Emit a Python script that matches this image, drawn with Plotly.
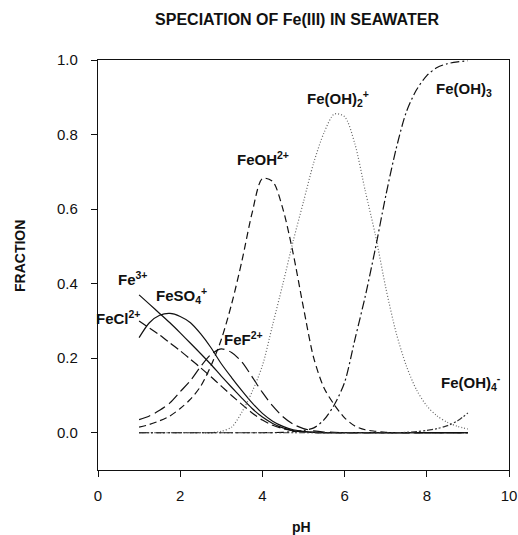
import plotly.graph_objects as go

PH = [1.0, 1.25, 1.5, 1.75, 2.0, 2.25, 2.5, 2.75, 3.0, 3.25, 3.5, 3.75, 4.0, 4.25, 4.5,
      4.75, 5.0, 5.25, 5.5, 5.75, 6.0, 6.25, 6.5, 6.75, 7.0, 7.25, 7.5, 7.75, 8.0, 8.25,
      8.5, 8.75, 9.0]

FE3 = [0.37, 0.345, 0.32, 0.295, 0.268, 0.24, 0.212, 0.183, 0.152, 0.122, 0.093, 0.065,
       0.042, 0.025, 0.013, 0.006, 0.003, 0.001] + [0.0] * 15
FECL = [0.30, 0.281, 0.262, 0.241, 0.22, 0.197, 0.174, 0.15, 0.125, 0.1, 0.076, 0.053,
        0.034, 0.02, 0.011, 0.005, 0.002, 0.001] + [0.0] * 15
FESO4 = [0.255, 0.295, 0.315, 0.32, 0.312, 0.295, 0.265, 0.228, 0.185, 0.148, 0.113, 0.08,
         0.052, 0.031, 0.017, 0.008, 0.004, 0.001] + [0.0] * 15
FEF = [0.035, 0.045, 0.06, 0.08, 0.11, 0.14, 0.178, 0.21, 0.225, 0.215, 0.19, 0.15,
       0.108, 0.072, 0.043, 0.023, 0.011, 0.005, 0.002, 0.001] + [0.0] * 13
FEOH = [0.015, 0.022, 0.032, 0.045, 0.065, 0.09, 0.125, 0.18, 0.25, 0.345, 0.46, 0.59,
        0.682, 0.674, 0.6, 0.48, 0.335, 0.2, 0.12, 0.075, 0.04, 0.018, 0.008, 0.004,
        0.001] + [0.0] * 8
FEOH2 = [0.0] * 8 + [0.004, 0.015, 0.055, 0.11, 0.18, 0.29, 0.4, 0.515, 0.62, 0.725, 0.805,
                     0.855, 0.848, 0.775, 0.65, 0.53, 0.39, 0.27, 0.18, 0.115, 0.072, 0.045,
                     0.028, 0.017, 0.01]
FEOH3 = [0.0] * 12 + [0.0, 0.0005, 0.001, 0.003, 0.006, 0.013, 0.035, 0.075, 0.135, 0.25,
                      0.365, 0.495, 0.635, 0.76, 0.86, 0.92, 0.958, 0.98, 0.99, 0.995, 0.998]
FEOH4 = [0.0] * 26 + [0.001, 0.003, 0.006, 0.011, 0.019, 0.032, 0.053]

LABELS = ["Fe<sup>3+</sup>", "FeCl<sup>2+</sup>", "FeSO<sub>4</sub><sup>+</sup>",
          "FeF<sup>2+</sup>", "FeOH<sup>2+</sup>", "Fe(OH)<sub>2</sub><sup>+</sup>",
          "Fe(OH)<sub>3</sub>", "Fe(OH)<sub>4</sub><sup>-</sup>"]
LABEL_X = [0.85, 0.49, 2.02, 3.53, 4.02, 5.84, 8.9, 9.08]
LABEL_Y = [0.413, 0.308, 0.367, 0.252, 0.735, 0.898, 0.92, 0.135]

SERIES = [FE3, FECL, FESO4, FEF, FEOH, FEOH2, FEOH3, FEOH4]
DASHES = ["solid", "9px,4px", "solid", "12px,5px", "7px,4px", "1px,2px",
          "9px,3px,2px,3px", "6px,2px,2px,2px,2px,2px"]
COLORS = ["#111", "#111", "#111", "#111", "#111", "#666", "#111", "#333"]

fig = go.Figure()
for ys, d, c in zip(SERIES, DASHES, COLORS):
    fig.add_trace(go.Scatter(x=PH, y=ys, mode="lines",
                             line=dict(color=c, width=1.2, dash=d, shape="spline", smoothing=0.8),
                             showlegend=False, hoverinfo="skip"))

FAM = "Liberation Sans, Arial, sans-serif"
font = dict(family=FAM, size=15, color="#111")
for t, x, y in zip(LABELS, LABEL_X, LABEL_Y):
    fig.add_annotation(x=x, y=y, text="<b>" + t + "</b>", showarrow=False, font=font,
                       xanchor="center", yanchor="middle")

fig.add_annotation(xref="paper", yref="paper", x=0, y=0.522, xshift=-78,
                   xanchor="center", yanchor="middle",
                   text="<b>FRACTION</b>", textangle=-90, showarrow=False,
                   font=dict(family=FAM, size=14, color="#111"))
fig.add_annotation(xref="paper", yref="paper", x=0.496, y=0, yshift=-57,
                   xanchor="center", yanchor="middle",
                   text="<b>pH</b>", showarrow=False,
                   font=dict(family=FAM, size=14, color="#111"))

fig.update_layout(
    width=518, height=535,
    margin=dict(l=98, r=9, t=60, b=65),
    paper_bgcolor="white", plot_bgcolor="white",
    title=dict(text="<b>SPECIATION OF Fe(III) IN SEAWATER</b>",
               x=297 / 518, xanchor="center",
               y=1 - 19 / 535, yanchor="middle",
               font=dict(family=FAM, size=16, color="#111")),
    font=font,
)
fig.update_xaxes(range=[0, 10], tickvals=[0, 2, 4, 6, 8, 10], ticks="outside", ticklen=6,
                 tickcolor="#111", showline=True, linecolor="#111", linewidth=1.2, mirror=True,
                 showgrid=False, zeroline=False, tickfont=dict(size=15), automargin=False,
                 tickprefix="<b>", ticksuffix="</b>", ticklabelstandoff=6)
fig.update_yaxes(range=[-0.1, 1.0], tickvals=[0, 0.2, 0.4, 0.6, 0.8, 1.0], tickformat=".1f",
                 ticks="outside", ticklen=6, tickcolor="#111", showline=True, linecolor="#111",
                 linewidth=1.2, mirror=True, showgrid=False, zeroline=False, automargin=False,
                 tickfont=dict(size=15), tickprefix="<b>", ticksuffix="</b>",
                 ticklabelstandoff=10)

fig.write_html("out.html", config={"displayModeBar": False},
               post_script="document.body.style.margin='0';document.body.style.overflow='hidden';")
